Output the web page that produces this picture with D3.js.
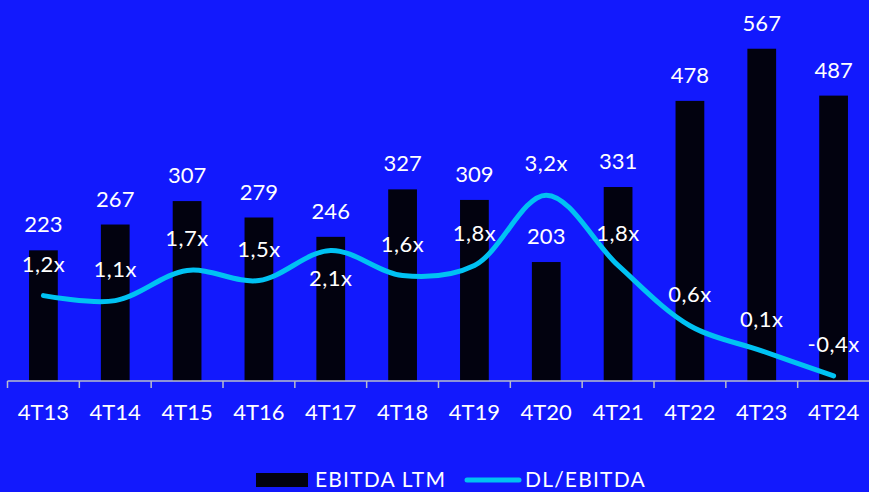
<!DOCTYPE html>
<html>
<head>
<meta charset="utf-8">
<script src="https://cdn.jsdelivr.net/npm/d3@7"></script>
<style>
  html, body { margin: 0; padding: 0; background: #1219fd; }
  svg text { font-family: Lato, "Noto Sans", sans-serif; fill: #fff; }
</style>
</head>
<body>
<div id="chart"></div>
<script>
var categories = ["4T13","4T14","4T15","4T16","4T17","4T18","4T19","4T20","4T21","4T22","4T23","4T24"];
var ebitda = [223, 267, 307, 279, 246, 327, 309, 203, 331, 478, 567, 487];
var leverage = [1.2, 1.1, 1.7, 1.5, 2.1, 1.6, 1.8, 3.2, 1.8, 0.6, 0.1, -0.4];
var leverageLabels = ["1,2x","1,1x","1,7x","1,5x","2,1x","1,6x","1,8x","3,2x","1,8x","0,6x","0,1x","-0,4x"];
var legendNames = ["EBITDA LTM", "DL/EBITDA"];

var width = 869, height = 492;
var bg = "#1219fd", barColor = "#02020f", lineColor = "#00c2f3";

var svg = d3.select("#chart").append("svg")
  .attr("width", width)
  .attr("height", height);

svg.append("rect").attr("width", width).attr("height", height).attr("fill", bg);

var x = d3.scaleBand()
  .domain(categories)
  .range([7.5, 869.5])
  .paddingInner(0.6)
  .paddingOuter(0.3);

var y = d3.scaleLinear().domain([0, 600]).range([381, 29.4]);
var y2 = d3.scaleLinear().domain([-0.5, 6.5]).range([381, 29.4]);

var cx = function(d) { return x(d) + x.bandwidth() / 2; };

// bars
svg.selectAll(".bar")
  .data(categories)
  .enter().append("rect")
  .attr("class", "bar")
  .attr("x", function(d) { return x(d); })
  .attr("width", x.bandwidth())
  .attr("y", function(d, i) { return y(ebitda[i]); })
  .attr("height", function(d, i) { return y(0) - y(ebitda[i]); })
  .attr("fill", barColor);

// axis
var step = x.step();
var x0 = x.range()[0];
svg.append("line")
  .attr("x1", x0).attr("x2", width)
  .attr("y1", y(0)).attr("y2", y(0))
  .attr("stroke", "#b9bccc").attr("stroke-width", 1.5);

svg.selectAll(".tick")
  .data(categories)
  .enter().append("line")
  .attr("x1", function(d, i) { return x0 + i * step; })
  .attr("x2", function(d, i) { return x0 + i * step; })
  .attr("y1", y(0)).attr("y2", y(0) + 7)
  .attr("stroke", "#b9bccc").attr("stroke-width", 1.5);

svg.selectAll(".xlabel")
  .data(categories)
  .enter().append("text")
  .attr("x", cx)
  .attr("y", 420)
  .attr("text-anchor", "middle")
  .attr("font-size", 22)
  .text(function(d) { return d; });

// bar labels
svg.selectAll(".blabel")
  .data(categories)
  .enter().append("text")
  .attr("x", cx)
  .attr("y", function(d, i) { return y(ebitda[i]) - 18; })
  .attr("text-anchor", "middle")
  .attr("font-size", 22)
  .text(function(d, i) { return ebitda[i]; });

// line
var line = d3.line()
  .x(function(d, i) { return cx(categories[i]); })
  .y(function(d) { return y2(d); })
  .curve(d3.curveCatmullRom.alpha(0.5));

svg.append("path")
  .datum(leverage)
  .attr("d", line)
  .attr("fill", "none")
  .attr("stroke", lineColor)
  .attr("stroke-width", 5)
  .attr("stroke-linecap", "round");

svg.selectAll(".llabel")
  .data(categories)
  .enter().append("text")
  .attr("x", cx)
  .attr("y", function(d, i) { return i == 4 ? y2(leverage[i]) + 36 : y2(leverage[i]) - 24; })
  .attr("text-anchor", "middle")
  .attr("font-size", 22)
  .attr("letter-spacing", 0.5)
  .text(function(d, i) { return leverageLabels[i]; });

// legend
svg.append("rect")
  .attr("x", 256).attr("y", 473).attr("width", 52).attr("height", 14)
  .attr("fill", barColor);
svg.append("text")
  .attr("x", 315).attr("y", 487).attr("font-size", 21)
  .attr("letter-spacing", 1.2)
  .text(legendNames[0]);
svg.append("line")
  .attr("x1", 467).attr("x2", 519).attr("y1", 480).attr("y2", 480)
  .attr("stroke", lineColor).attr("stroke-width", 5).attr("stroke-linecap", "round");
svg.append("text")
  .attr("x", 525).attr("y", 487).attr("font-size", 21)
  .attr("letter-spacing", 1.2)
  .text(legendNames[1]);
</script>
</body>
</html>
